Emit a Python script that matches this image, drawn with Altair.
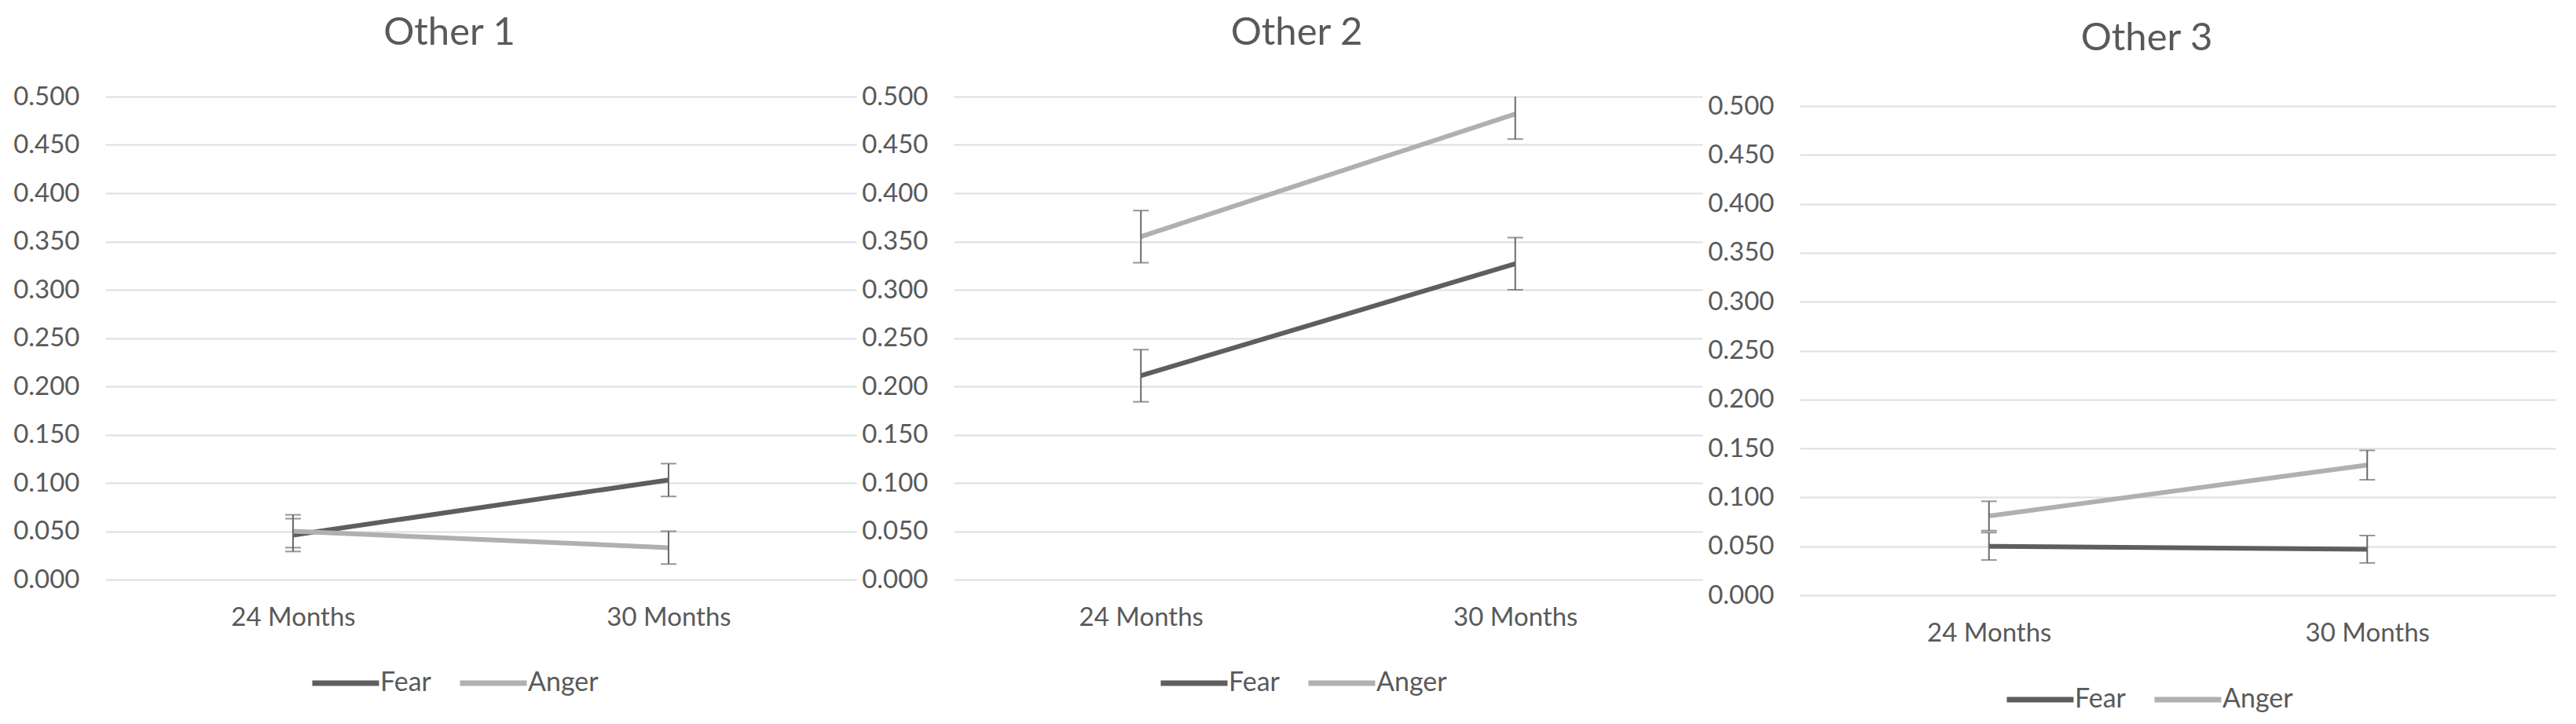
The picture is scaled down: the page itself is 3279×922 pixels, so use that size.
import altair as alt
import pandas as pd

# ---- data ----
panels = ["Other 1", "Other 2", "Other 3"]
categories = ["24 Months", "30 Months"]
series = ["Fear", "Anger"]
fear_mean = [[0.046, 0.103], [0.211, 0.327], [0.050, 0.047]]
anger_mean = [[0.050, 0.033], [0.355, 0.482], [0.081, 0.133]]
fear_err = [[0.017, 0.017], [0.027, 0.027], [0.014, 0.014]]
anger_err = [[0.017, 0.017], [0.027, 0.026], [0.015, 0.015]]
y_ticks = [0.0, 0.05, 0.1, 0.15, 0.2, 0.25, 0.3, 0.35, 0.4, 0.45, 0.5]
series_colors = ["#5e5e5e", "#b0b0b0"]

FONT = "Lato"
TXT = "#595959"

# panel layout (plot areas); the third panel sits a little lower with blank headroom
panel_widths = [956, 953, 963]
panel_heights = [615, 615, 635]
y_max = [0.5, 0.5, 0.5 * 635 / 623]
title_offset = [40, 40, 45]
legend_y = [701, 701, 722]


def panel_frame(i):
    rows = []
    for s, means, errs in (("Fear", fear_mean, fear_err), ("Anger", anger_mean, anger_err)):
        for j, c in enumerate(categories):
            m = means[i][j]
            e = errs[i][j]
            rows.append({"time": c, "series": s, "mean": m, "lo": m - e, "hi": m + e})
    return pd.DataFrame(rows)


def make_panel(i):
    df = panel_frame(i)
    base = alt.Chart(df)
    x = alt.X(
        "time:N",
        sort=categories,
        scale=alt.Scale(type="point", padding=0.5),
        axis=alt.Axis(
            title=None, labelAngle=0, ticks=False, tickSize=0, domain=False, grid=False,
            labelPadding=32, labelFontSize=33, labelFont=FONT, labelColor=TXT,
        ),
    )
    yaxis = alt.Axis(
        title=None, values=y_ticks, format=".3f", ticks=False, tickSize=0, domain=False,
        gridColor="#dedede", gridWidth=2, labelPadding=33, labelFontSize=33,
        labelFont=FONT, labelColor=TXT,
    )
    yscale = alt.Scale(domain=[0, y_max[i]], nice=False, zero=True)

    lines = base.mark_line(strokeWidth=6, clip=True).encode(
        x=x,
        y=alt.Y("mean:Q", scale=yscale, axis=yaxis),
        color=alt.Color(
            "series:N",
            sort=series,
            scale=alt.Scale(domain=series, range=series_colors),
            legend=alt.Legend(
                title=None, orient="none", legendX=260, legendY=legend_y[i],
                direction="horizontal", symbolType="stroke", symbolSize=7225,
                symbolStrokeWidth=7, labelFontSize=34, labelFont=FONT,
                labelColor=TXT, labelOffset=alt.ExprRef(expr="-2"), columnPadding=22,
            ),
        ),
        detail="series:N",
    )
    rules = base.mark_rule(color="#6a6a6a", strokeWidth=2, clip=True).encode(
        x=x,
        y=alt.Y("lo:Q", scale=yscale, axis=yaxis),
        y2="hi:Q",
    )
    cap_lo = base.mark_tick(color="#6a6a6a", thickness=2, size=20, clip=True).encode(
        x=x, y=alt.Y("lo:Q", scale=yscale, axis=yaxis)
    )
    cap_hi = base.mark_tick(color="#6a6a6a", thickness=2, size=20, clip=True).encode(
        x=x, y=alt.Y("hi:Q", scale=yscale, axis=yaxis)
    )
    title = alt.TitleParams(
        text=panels[i], fontSize=49, font=FONT, color=TXT, fontWeight="normal",
        anchor="middle", frame="group", dx=-40, offset=title_offset[i],
    )
    return alt.layer(lines, rules, cap_lo, cap_hi).properties(
        width=panel_widths[i], height=panel_heights[i], title=title
    )


chart = (
    alt.hconcat(*[make_panel(i) for i in range(3)], spacing=6)
    .resolve_scale(x="independent", y="independent", color="independent")
    .resolve_legend(color="independent")
    .properties(padding={"left": 8, "top": 10, "right": 0, "bottom": 20}, background="white")
    .configure_view(stroke=None)
)

chart.save("out.html", embed_options={"renderer": "svg", "actions": False})
